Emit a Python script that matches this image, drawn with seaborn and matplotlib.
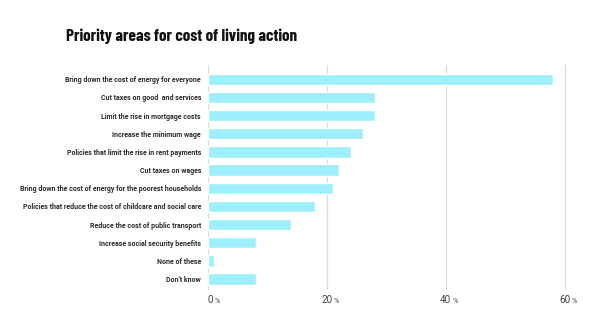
import matplotlib
matplotlib.use("Agg")
import matplotlib.pyplot as plt
import matplotlib.transforms as mtransforms
import seaborn as sns
import pandas as pd

categories = [
    "Bring down the cost of energy for everyone",
    "Cut taxes on good  and services",
    "Limit the rise in mortgage costs",
    "Increase the minimum wage",
    "Policies that limit the rise in rent payments",
    "Cut taxes on wages",
    "Bring down the cost of energy for the poorest households",
    "Policies that reduce the cost of childcare and social care",
    "Reduce the cost of public transport",
    "Increase social security benefits",
    "None of these",
    "Don't know",
]
values = [58, 28, 28, 26, 24, 22, 21, 18, 14, 8, 1, 8]
tick_values = [0, 20, 40, 60]

df = pd.DataFrame({"area": categories, "share": values})

sns.set_theme(style="white")
plt.rcParams["font.family"] = ["Roboto", "DejaVu Sans"]

fig = plt.figure(figsize=(6.0, 3.29), dpi=100)
ax = fig.add_axes([208 / 600, 1 - 290 / 329, (575 - 208) / 600, (290 - 65) / 329])

sns.barplot(data=df, x="share", y="area", color="#9EEFFD", saturation=1,
            width=0.62, ax=ax, orient="h")

ax.set_xlim(0, 61.7)
ax.set_ylim(11.6, -0.78)
ax.set_xlabel("")
ax.set_ylabel("")
for s in ax.spines.values():
    s.set_visible(False)

ax.set_xticks(tick_values)
ax.xaxis.grid(True, color="#DCDCDC", linewidth=0.9)
ax.set_axisbelow(True)
ax.tick_params(axis="x", length=0, labelbottom=False)
ax.tick_params(axis="y", length=0, pad=5, labelsize=5.0, labelcolor="#2a2a2a")
for lbl in ax.get_yticklabels():
    lbl.set_fontweight("bold")

# tick labels with a reduced percent sign
trans = mtransforms.blended_transform_factory(ax.transData, ax.transAxes)
for v in tick_values:
    ax.text(v + 0.9, -0.058, f"{v}", transform=trans, ha="right", va="baseline",
            fontsize=7.2, color="#444444")
    ax.text(v + 1.1, -0.058, "%", transform=trans, ha="left", va="baseline",
            fontsize=5.2, color="#444444")

fig.text(66 / 600, 1 - 36 / 329, "Priority areas for cost of living action",
         fontsize=12.3, fontweight=700, color="#111111", va="center", ha="left",
         family=["Barlow Condensed", "Roboto"])

fig.savefig("out.png", dpi=100, facecolor="white")
